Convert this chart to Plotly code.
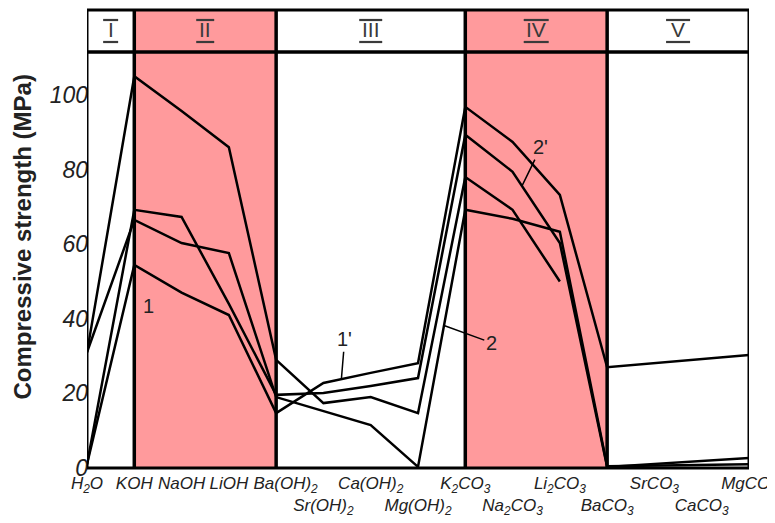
import plotly.graph_objects as go

# ---------------- data ----------------
categories = ["H<sub>2</sub>O", "KOH", "NaOH", "LiOH", "Ba(OH)<sub>2</sub>",
              "Sr(OH)<sub>2</sub>", "Ca(OH)<sub>2</sub>", "Mg(OH)<sub>2</sub>",
              "K<sub>2</sub>CO<sub>3</sub>", "Na<sub>2</sub>CO<sub>3</sub>", "Li<sub>2</sub>CO<sub>3</sub>",
              "BaCO<sub>3</sub>", "SrCO<sub>3</sub>", "CaCO<sub>3</sub>", "MgCO<sub>3</sub>"]
label_row = [1, 1, 1, 1, 1, 2, 1, 2, 1, 2, 1, 2, 1, 2, 1]

series_a = [31, 105, 95.7, 86, 29, 17.4, 19, 14.7, 78, 69.2, 50, None, None, None, None]
series_b = [1, 69.2, 67.3, 44, 19.6, 20.1, 22, 24.1, 89.3, 79.4, 60.3, 0.3, None, None, 2.7]
series_c = [31, 66.5, 60.3, 57.6, 19, 15.3, 11.5, 0.3, 69.2, 66.8, 63.3, 0.5, None, None, 1.0]
series_d = [1, 54.4, 47, 41, 14.7, 22.8, 25.5, 28.1, 96.8, 87.4, 73.2, 27, None, None, 30.3]

regions = ["I", "II", "III", "IV", "V"]
region_bounds = [(0, 1), (1, 4), (4, 8), (8, 11), (11, 14)]
region_shaded = [False, True, False, True, False]

y_max = 111.5
band_bottom = 0.9083  # paper fraction where the header band starts

PINK = "#ff9a9c"
NUM_COLOR = "#3a3a3a"
FONT = "Liberation Sans, Arial, sans-serif"
label_pad = {4: 4}                 # leading non-breaking spaces for crowded tick labels
bar_halfwidth = [7.5, 9, 11.5, 12.5, 12]   # px, bars above/below the roman numerals

fig = go.Figure()
x_idx = list(range(len(categories)))
for s in [series_a, series_b, series_c, series_d]:
    fig.add_trace(go.Scatter(x=x_idx, y=s, mode="lines", connectgaps=True,
                             line=dict(color="black", width=2.5), showlegend=False,
                             hoverinfo="skip"))

band_mid = (band_bottom + 1) / 2
shapes = []
for (x0, x1), shaded in zip(region_bounds, region_shaded):
    if shaded:
        shapes.append(dict(type="rect", xref="x", yref="paper", x0=x0, x1=x1, y0=0, y1=1,
                           fillcolor=PINK, line=dict(width=0), layer="below"))
for (x0, x1) in region_bounds[1:]:
    shapes.append(dict(type="line", xref="x", yref="paper", x0=x0, x1=x0, y0=0, y1=1,
                       line=dict(color="black", width=3.5), layer="above"))
shapes.append(dict(type="line", xref="x", yref="paper", x0=0, x1=14, y0=band_bottom, y1=band_bottom,
                   line=dict(color="black", width=3.5), layer="above"))
shapes.append(dict(type="rect", xref="x", yref="paper", x0=0, x1=14, y0=0, y1=1,
                   line=dict(color="black", width=3), layer="above"))
# bars over and under the roman numerals
for (x0, x1), hw in zip(region_bounds, bar_halfwidth):
    for dy in (11, -11):
        shapes.append(dict(type="line", xref="x", yref="paper",
                           xsizemode="pixel", xanchor=(x0 + x1) / 2, x0=-hw, x1=hw,
                           ysizemode="pixel", yanchor=band_mid, y0=dy, y1=dy,
                           line=dict(color=NUM_COLOR, width=2.2), layer="above"))

annotations = []
for name, (x0, x1) in zip(regions, region_bounds):
    annotations.append(dict(
        x=(x0 + x1) / 2, y=band_mid, xref="x", yref="paper",
        xanchor="center", yanchor="middle", yshift=1,
        text=name, showarrow=False,
        font=dict(family=FONT, size=21, color=NUM_COLOR)))

label_font = dict(family=FONT, size=20, color="#222222")
arrow = dict(showarrow=True, arrowhead=0, arrowwidth=1.5, arrowcolor="black",
             axref="x", ayref="y", standoff=0)
annotations += [
    dict(x=1.31, y=43.5, xref="x", yref="y", text="1", showarrow=False, font=label_font),
    dict(x=5.38, y=23.9, ax=5.45, ay=34.5, xref="x", yref="y", text="1'", font=label_font, **arrow),
    dict(x=7.55, y=38.2, ax=8.55, ay=33.6, xref="x", yref="y", text="2", font=label_font, **arrow),
    dict(x=9.2, y=75.6, ax=9.6, ay=86, xref="x", yref="y", text="2'", font=label_font, **arrow),
    # y-axis title
    dict(x=-0.097, y=0.505, xref="paper", yref="paper", xanchor="center", yanchor="middle",
         text="<b>Compressive strength (MPa)</b>", textangle=-90, showarrow=False,
         font=dict(family=FONT, size=24, color="#222222")),
]

ticktext = []
for i, (c, r) in enumerate(zip(categories, label_row)):
    t = "\u00a0" * label_pad.get(i, 0) + c
    ticktext.append(("<br>" + t) if r == 2 else t)

# the page body adds an 8px margin, so the figure is sized to fit the 775x523 window
fig.update_layout(
    width=767, height=515,
    margin=dict(l=79, r=26, t=2, b=55),
    paper_bgcolor="white", plot_bgcolor="white",
    shapes=shapes, annotations=annotations,
    xaxis=dict(range=[0, 14], tickvals=x_idx, ticktext=ticktext, tickangle=0,
               automargin=False, ticklabeloverflow="allow", ticklabelstandoff=3,
               showgrid=False, zeroline=False, showline=False, ticks="",
               tickfont=dict(family=FONT, size=17, color="#222222", style="italic")),
    yaxis=dict(range=[0, y_max], domain=[0, band_bottom], tickvals=[0, 20, 40, 60, 80, 100],
               automargin=False,
               showgrid=False, zeroline=False, showline=False, ticks="",
               ticklabelstandoff=-2,
               tickfont=dict(family=FONT, size=23, color="#222222", style="italic")),
)

fig.write_html("out.html")
